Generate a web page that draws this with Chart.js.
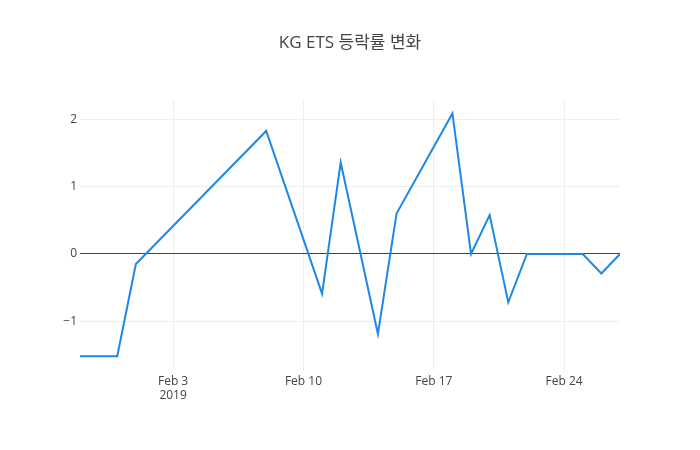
<!DOCTYPE html>
<html>
<head>
<meta charset="utf-8">
<script src="https://cdn.jsdelivr.net/npm/chart.js@4.4.1/dist/chart.umd.min.js"></script>
<style>
  html, body { margin: 0; padding: 0; background: #fff; }
  #wrap { width: 700px; height: 450px; }
</style>
</head>
<body>
<div id="wrap"><canvas id="rateChart"></canvas></div>
<script>
// KG ETS 등락률 (%) by trading day
const dates = [
  '2019-01-29', '2019-01-31', '2019-02-01', '2019-02-08', '2019-02-11',
  '2019-02-12', '2019-02-14', '2019-02-15', '2019-02-18', '2019-02-19',
  '2019-02-20', '2019-02-21', '2019-02-22', '2019-02-25', '2019-02-26',
  '2019-02-27'
];
const rates = [
  -1.52, -1.52, -0.15, 1.83, -0.59,
  1.36, -1.19, 0.60, 2.09, 0,
  0.58, -0.72, 0, 0, -0.29,
  0
];
const xTickDates = ['2019-02-03', '2019-02-10', '2019-02-17', '2019-02-24'];
const xTickLabels = [['Feb 3', '2019'], 'Feb 10', 'Feb 17', 'Feb 24'];
const yTicks = [-1, 0, 1, 2];

const DAY = 86400000;
const toDay = s => Date.parse(s + 'T00:00:00Z') / DAY;

const fontFamily = "'Open Sans', 'Noto Sans CJK KR', sans-serif";
const textColor = '#444';

const points = dates.map((d, i) => ({ x: toDay(d), y: rates[i] }));
const xTickValues = xTickDates.map(toDay);

const titlePlugin = {
  id: 'plotTitle',
  afterDraw(chart) {
    const ctx = chart.ctx;
    ctx.save();
    ctx.fillStyle = textColor;
    ctx.font = '17px ' + fontFamily;
    ctx.textAlign = 'center';
    ctx.textBaseline = 'middle';
    ctx.fillText('KG ETS 등락률 변화', 350, 43);
    ctx.restore();
  }
};

new Chart(document.getElementById('rateChart'), {
  type: 'line',
  data: {
    datasets: [{
      data: points,
      borderColor: '#1f88e5',
      borderWidth: 2,
      pointRadius: 0,
      tension: 0,
      fill: false
    }]
  },
  options: {
    responsive: true,
    maintainAspectRatio: false,
    animation: false,
    layout: { padding: { top: 100, right: 80, left: 0, bottom: 0 } },
    plugins: {
      legend: { display: false },
      tooltip: { enabled: false }
    },
    scales: {
      x: {
        type: 'linear',
        min: points[0].x,
        max: points[points.length - 1].x,
        afterBuildTicks: scale => { scale.ticks = xTickValues.map(v => ({ value: v })); },
        afterFit: scale => { scale.height = 80; },
        border: { display: false },
        grid: { color: '#eee', lineWidth: 1, drawTicks: false },
        ticks: {
          color: textColor,
          font: { family: fontFamily, size: 12 },
          padding: 4,
          maxRotation: 0,
          autoSkip: false,
          callback: function(value) {
            const i = xTickValues.indexOf(value);
            return i >= 0 ? xTickLabels[i] : '';
          }
        }
      },
      y: {
        min: -1.726,
        max: 2.29,
        afterBuildTicks: scale => { scale.ticks = yTicks.map(v => ({ value: v })); },
        afterFit: scale => { scale.width = 80; },
        border: { display: false },
        grid: {
          color: ctx => ctx.tick && ctx.tick.value === 0 ? '#444' : '#eee',
          lineWidth: 1,
          drawTicks: false
        },
        ticks: {
          color: textColor,
          font: { family: fontFamily, size: 12 },
          padding: 3,
          callback: v => (v < 0 ? '\u2212' + Math.abs(v) : String(v))
        }
      }
    }
  },
  plugins: [titlePlugin]
});
</script>
</body>
</html>
